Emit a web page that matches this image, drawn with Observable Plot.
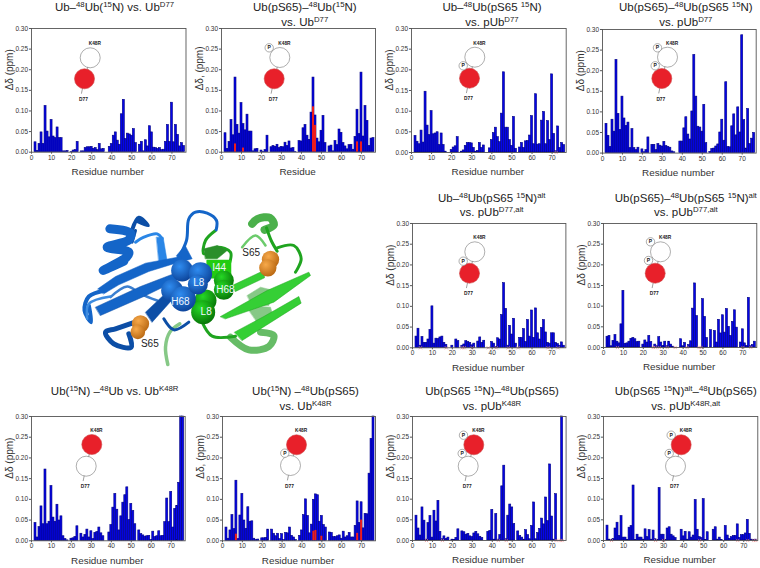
<!DOCTYPE html>
<html><head><meta charset="utf-8">
<script src="https://cdn.jsdelivr.net/npm/d3@7"></script>
<script src="https://cdn.jsdelivr.net/npm/@observablehq/plot@0.6"></script>
<style>
html,body{margin:0;padding:0;background:#fff}
#page{position:relative;width:760px;height:568px;overflow:hidden;font-family:"Liberation Sans",Arial,sans-serif}
#page svg{position:absolute;overflow:visible;background:transparent}
.t{position:absolute;transform:translateX(-50%);white-space:nowrap;font-size:11.5px;line-height:13px;color:#222;text-align:center}
.t sup{font-size:7.8px;line-height:0;vertical-align:baseline;position:relative;top:-4px}
</style></head><body><div id="page"></div>
<script>
// Residue numbers 2..76
const residues = d3.range(2, 77);
const ubA = [.024,.003,.02,.048,.02,.112,.05,.036,.078,.038,.034,.06,.034,.034,.002,.002,.003,0,.001,.004,.005,.025,0,.002,.002,.01,.012,.012,.013,.008,.01,.005,.02,.007,.008,0,0,.013,.02,.04,.048,.028,.018,.092,.127,.032,.045,.043,.04,.056,.022,0,.018,.025,.002,.029,.014,.063,.048,.011,.01,.008,.01,.005,.006,.025,.066,.025,.12,.024,.066,.042,.014,.022,.015];
const ubB = [.046,.008,.025,.078,.041,.181,.066,.045,.119,.068,.053,.091,.05,.05,.002,.007,.008,0,.004,.001,.005,.04,0,.012,.015,.013,.018,.01,.013,.012,.023,.015,.026,.009,.01,.001,0,.027,.026,.058,.066,.04,.03,.096,.181,.089,.033,.024,.052,.088,.022,0,.014,.016,.002,.027,.017,.055,.047,.022,.014,.007,.017,.018,.006,.037,.103,.044,.193,.038,.112,.076,.015,.033,.034];
const ubC = [.04,.026,.02,.053,.024,.147,.065,.042,.1,.044,.046,.049,.018,.046,.018,.002,0,0,.006,.012,.015,.037,0,.002,.005,.016,.023,.023,.022,.011,.002,.004,.023,.011,.017,0,0,.01,.03,.047,.06,.037,.025,.094,.194,.06,.06,.03,.016,.086,.009,0,.012,.023,.011,.027,.028,.041,.088,.02,.141,.019,.02,.077,.098,.02,.076,.03,.189,.045,.003,.063,.011,.023,.018];
const ubD = [.071,.042,.015,.081,.052,.226,.095,.056,.137,.084,.066,.074,.012,.058,.012,.007,.013,0,.009,.002,.007,.038,0,.02,.02,.007,.022,.018,.016,.027,.017,.015,.013,.004,.002,0,0,.028,.028,.06,.087,.045,.033,.101,.238,.137,.064,.062,.052,.117,.024,0,.003,.01,.011,.016,.021,.05,.081,.03,.172,.015,.014,.065,.094,.043,.111,.05,.286,.08,.011,.107,.022,.035,.049];
const ubE = [.027,.046,.005,.026,.012,.012,.02,.043,.1,.01,.022,.021,.025,.027,.012,.007,0,0,.005,0,.02,.016,0,.005,.008,.016,.014,.012,.006,.01,0,.015,.025,.012,.017,0,0,0,.014,.01,.002,.023,.02,.079,.156,.094,.005,.053,.032,.07,.01,0,.024,.024,.045,.014,.067,.027,.09,.024,.095,.035,.02,.048,.067,.037,.012,.01,.035,.035,.012,.009,.005,.013,.005];
const ubF = [.026,.028,.003,.016,.03,.014,.01,.056,.137,.009,.01,.014,.021,.023,.02,.013,.014,0,.007,.017,.012,.028,.013,0,.007,.003,.025,.012,.004,.014,.003,.014,.007,.002,0,0,0,.02,.003,.011,0,.006,.015,.094,.155,.076,0,0,.117,.074,.023,0,.042,0,.04,.012,.067,.034,.078,.036,.093,.05,.028,.062,.09,.048,0,.012,.044,.01,.004,.12,.003,.006,.014];
const ubG = [.043,.008,.033,.083,.04,.172,.04,.046,.132,.056,.046,.087,.049,.059,.011,.004,.001,0,.005,.006,.009,.035,0,.017,.008,.014,.027,.008,.023,.004,.019,.021,.032,.018,.011,0,0,.02,.038,.08,.113,.075,.025,.059,.092,.11,.129,.05,.089,.072,.04,0,.025,.016,.013,.01,.011,.012,.002,.022,.009,.011,.023,.011,.012,.045,.102,.045,.118,.032,.077,.084,.14,.3,.3];
const ubH = [.032,.005,.025,.062,.028,.145,.004,.061,.113,.049,.029,.081,.046,.047,.005,.002,.003,0,.006,.006,.007,.027,0,.027,.017,.011,.017,.004,.016,.002,.019,.018,.032,.012,.008,.002,0,.012,.025,.062,.1,.06,.018,.039,.099,.112,.11,.046,.06,.038,.032,0,.02,.019,.009,.009,.011,.013,.005,.022,.008,.011,.019,.008,.008,.036,.095,.043,.093,.03,.065,.064,.162,.246,.3];
const ubI = [.06,.029,.012,.08,.048,.002,.042,.059,.007,.072,.046,.096,.021,.003,.01,.004,.007,0,.002,.001,.006,.027,0,.022,.02,.014,.016,.01,.008,.017,.021,.015,.009,.006,0,0,.021,.023,.074,.002,.064,.002,.013,.131,.181,.003,.06,.087,.08,.04,0,.022,.011,.007,.002,.025,.013,.003,.035,.092,.003,.018,.028,.053,.039,.104,.047,.184,.058,.002,.112,0,0,.3,0];
const ubJ = [.036,.002,.001,.004,.029,.043,.011,.059,.007,.007,.001,.031,.035,.133,.001,.014,.007,.007,.002,.027,.008,.025,.002,.024,.003,.001,.127,.014,.014,.001,.029,.032,.014,.01,.006,0,0,.026,.01,.021,.002,.02,.007,.012,.098,.026,.008,.006,.1,.001,.02,0,0,.026,.032,.002,.007,.001,0,.035,.012,.004,.008,.011,.011,.039,.006,.013,.013,.017,.05,.016,.002,.001,.002];
// red overlays [residue, value]
const redB = [[7,.02],[11,.01],[46,.11],[47,.065],[68,.025],[70,.025]];
const redH = [[7,.016],[46,.023],[47,.025],[50,.011],[68,.018],[70,.05]];
// missing-residue marks
const missC = [72];
const missE = [4,17,25,26,30,38,42,48,53,68,73];
const missF = [7,25,26,28,32,36,42,48,49,70,74];
const missI = [7,15,43,47,72,74,75];
const missJ = [4,26,30,48,67,72,75,76];
const yTicks = [0,.05,.1,.15,.2,.25,.3];
const xTicks = [0,10,20,30,40,50,60,70];

const panels = [
 {v:ubA,l:30.5,r:185,t:28.3,b:152,xl:"Residue number",yl:"Δδ (ppm)",
  title:['Ub–<sup>48</sup>Ub(<sup>15</sup>N) vs. Ub<sup>D77</sup>'],cx:114.5,ty:1},
 {v:ubB,red:redB,l:221.3,r:375.3,t:28.3,b:152,xl:"Residue",yl:"Δδ, (ppm)",
  title:['Ub(pS65)–<sup>48</sup>Ub(<sup>15</sup>N)','vs. Ub<sup>D77</sup>'],cx:304.8,ty:1},
 {v:ubC,miss:missC,l:411.3,r:566,t:28.3,b:152.3,xl:"Residue number",yl:"Δδ (ppm)",
  title:['Ub–<sup>48</sup>Ub(pS65 <sup>15</sup>N)','vs. pUb<sup>D77</sup>'],cx:492,ty:1},
 {v:ubD,l:602.3,r:756,t:28.7,b:152.3,xl:"Residue number",yl:"Δδ (ppm)",
  title:['Ub(pS65)–<sup>48</sup>Ub(pS65 <sup>15</sup>N)','vs. pUb<sup>D77</sup>'],cx:685.8,ty:1},
 {v:ubE,miss:missE,l:412.3,r:565.7,t:222.7,b:347,xl:"Residue number",yl:"Δδ (ppm)",
  title:['Ub–<sup>48</sup>Ub(pS65 <sup>15</sup>N)<sup>alt</sup>','vs. pUb<sup>D77,alt</sup>'],cx:491.7,ty:191.5},
 {v:ubF,miss:missF,l:603,r:756.3,t:223.3,b:347.3,xl:"Residue number",yl:"Δδ (ppm)",
  title:['Ub(pS65)–<sup>48</sup>Ub(pS65 <sup>15</sup>N)<sup>alt</sup>','vs. pUb<sup>D77,alt</sup>'],cx:685.8,ty:191.5},
 {v:ubG,l:31.3,r:185,t:415.7,b:540,xl:"Residue number",yl:"Δδ (ppm)",
  title:['Ub(<sup>15</sup>N) –<sup>48</sup>Ub vs. Ub<sup>K48R</sup>'],cx:114.7,ty:385},
 {v:ubH,red:redH,l:222.3,r:375.3,t:415.7,b:540,xl:"Residue number",yl:"Δδ, (ppm)",
  title:['Ub(<sup>15</sup>N) –<sup>48</sup>Ub(pS65)','vs. Ub<sup>K48R</sup>'],cx:305.5,ty:385},
 {v:ubI,miss:missI,l:411.7,r:565.3,t:415.7,b:539.7,xl:"Residue number",yl:"Δδ, (ppm)",
  title:['Ub(pS65 <sup>15</sup>N)–<sup>48</sup>Ub(pS65)','vs. pUb<sup>K48R</sup>'],cx:492,ty:385},
 {v:ubJ,miss:missJ,l:602.7,r:757,t:415.7,b:539.7,xl:"Residue number",yl:"Δδ, (ppm)",
  title:['Ub(pS65 <sup>15</sup>N)<sup>alt</sup>–<sup>48</sup>Ub(pS65)','vs. pUb<sup>K48R,alt</sup>'],cx:685.8,ty:385}
];
// cartoon layouts on the page: top circle, bottom circle, phospho tags
const cartoons = [
 {top:[89.7,57.3],bot:[84,78.3],red:"bot",p:[]},
 {top:[279.3,57],bot:[273.7,78.3],red:"bot",p:[[268.7,47.3,"top"]]},
 {top:[474.3,56.7],bot:[469,77.7],red:"bot",p:[[462.7,65.3,"top"]]},
 {top:[667,56.7],bot:[661.3,78],red:"bot",p:[[654.7,65.3,"top"],[657,47.3,"top"]]},
 {top:[474.3,251.3],bot:[469,272.7],red:"bot",p:[[462.7,260.7,"top"]]},
 {top:[660,251.3],bot:[654.7,272.7],red:"bot",p:[[648,260,"top"],[650,241.3,"top"]]},
 {top:[91.3,444],bot:[85.7,465.7],red:"top",p:[]},
 {top:[296,444.3],bot:[290,465],red:"top",p:[[284.3,452.7,"bot"]]},
 {top:[473.3,444.3],bot:[467.7,465.7],red:"top",p:[[461.7,453,"bot"],[463,434.7,"top"]]},
 {top:[680.7,444.3],bot:[675,465.7],red:"top",p:[[668.7,453,"bot"],[670.7,434.7,"top"]]}
];

const page = document.getElementById("page");
const FONT = '"Liberation Sans",Arial,sans-serif';
for (const p of panels) {
  const mL=31, mR=4, mT=4, mB=30;
  const bars = residues.map((r,i)=>({r,v:p.v[i]})).filter(d=>d.v>0);
  const marks = [
    Plot.rectY(bars,{x1:d=>d.r-.5,x2:d=>d.r+.5,y1:0,y2:"v",fill:"#0505e8",stroke:"#000080",strokeWidth:.6,inset:0}),
  ];
  if (p.red) marks.push(Plot.rectY(p.red,{x1:d=>d[0]-.5,x2:d=>d[0]+.5,y1:0,y2:d=>d[1],fill:"#ee1c1c",inset:0}));
  if (p.miss) marks.push(Plot.dot(p.miss,{x:d=>d,y:0,r:1.6,symbol:"times",stroke:"#e88a8a",strokeWidth:.7}));
  marks.push(
    Plot.frame({stroke:"#555",strokeWidth:.9}),
    Plot.axisX({ticks:xTicks,tickSize:2,tickPadding:1,fontSize:6.5,label:null,stroke:"#555",fill:"#333"}),
    Plot.axisY({ticks:yTicks,tickSize:2,tickPadding:1.5,tickFormat:".2f",fontSize:6.5,label:null,stroke:"#555",fill:"#333"}),
    Plot.text([p.xl],{frameAnchor:"bottom",dy:23,dx:-1,fontSize:9.9,fill:"#333",lineAnchor:"bottom"}),
    Plot.text([p.yl],{frameAnchor:"left",dx:-22,rotate:-90,fontSize:10,fill:"#333"})
  );
  const svg = Plot.plot({
    width:(p.r-p.l)+mL+mR, height:(p.b-p.t)+mT+mB,
    marginLeft:mL,marginRight:mR,marginTop:mT,marginBottom:mB,
    x:{domain:[0,77],axis:null}, y:{domain:[0,.3],axis:null},
    style:{fontFamily:FONT,background:"transparent",overflow:"visible"},
    marks
  });
  svg.style.left=(p.l-mL)+"px"; svg.style.top=(p.t-mT)+"px";
  page.appendChild(svg);
  p.title.forEach((s,i)=>{
    const d=document.createElement("div");d.className="t";d.innerHTML=s;
    d.style.left=p.cx+"px";d.style.top=(p.ty+i*14.6)+"px";page.appendChild(d);
  });
}

// Cartoons overlay
const links=[],big=[],small=[],kLab=[],dLab=[],pLab=[];
for(const c of cartoons){
  links.push({a:c.top,b:c.bot});
  links.push({a:c.bot,b:[c.bot[0]-3,c.bot[1]+14.5]});
  big.push({x:c.top[0],y:c.top[1],f:c.red==="top"?"#e8202a":"#fff",s:c.red==="top"?"#c44":"#777"});
  big.push({x:c.bot[0],y:c.bot[1],f:c.red==="bot"?"#e8202a":"#fff",s:c.red==="bot"?"#c44":"#777"});
  kLab.push({x:c.top[0]+4.6,y:c.top[1]-14,t:"K48R"});
  dLab.push({x:c.bot[0]-1,y:c.bot[1]+20.7,t:"D77"});
  for(const q of c.p){
    links.push({a:[q[0],q[1]],b:c[q[2]]});
    small.push({x:q[0],y:q[1]});pLab.push({x:q[0],y:q[1],t:"P"});
  }
}
const segs=links.flatMap((l,i)=>[{x:l.a[0],y:l.a[1],i},{x:l.b[0],y:l.b[1],i}]);
const overlay=Plot.plot({
  width:760,height:568,margin:0,
  x:{domain:[0,760],range:[0,760],axis:null},
  y:{domain:[0,568],range:[0,568],axis:null},
  style:{fontFamily:FONT,background:"transparent",overflow:"visible"},
  marks:[
    Plot.line(segs,{x:"x",y:"y",z:"i",stroke:"#777",strokeWidth:.7}),
    Plot.dot(big,{x:"x",y:"y",r:10,fill:"f",stroke:"s",strokeWidth:.6}),
    Plot.dot(small,{x:"x",y:"y",r:4.2,fill:"#fff",stroke:"#777",strokeWidth:.6}),
    Plot.text(pLab,{x:"x",y:"y",text:"t",fontSize:5,fontWeight:"bold",fill:"#222"}),
    Plot.text(kLab,{x:"x",y:"y",text:"t",fontSize:4.8,fontWeight:"bold",fill:"#222"}),
    Plot.text(dLab,{x:"x",y:"y",text:"t",fontSize:4.8,fontWeight:"bold",fill:"#222"})
  ]
});
overlay.style.left="0";overlay.style.top="0";overlay.style.pointerEvents="none";
page.appendChild(overlay);

// Protein structure illustration (coordinates in a 810x540 drawing space)
const P={x:d=>d[0],y:d=>d[1]};
const poly=(pts,c,s)=>Plot.line(pts,{...P,fill:c,stroke:s||c,strokeWidth:.5,curve:"linear-closed"});
const rib=(pts,c,w)=>Plot.line(pts,{...P,stroke:c,strokeWidth:w,curve:"catmull-rom",strokeLinecap:"round"});
const grad=(id,a,b)=>`<radialGradient id="${id}" cx="38%" cy="32%" r="75%"><stop offset="0%" stop-color="${a}"/><stop offset="100%" stop-color="${b}"/></radialGradient>`;
const defs=()=>{const g=document.createElementNS("http://www.w3.org/2000/svg","defs");
  g.innerHTML=grad("gb","#2f8cf0","#0a3f94")+grad("gg","#25d825","#056f05")+grad("go","#f7a94a","#b5640f");return g;};
const BL="#1465c8",BD="#0c4ea6",BM="#2a86e6",GR="#35cf35",GD="#1fa41f",GP="#86c886";
const sph=(pts,f,r)=>Plot.dot(pts,{...P,r:r/3,fill:f});
const protein=Plot.plot({
  width:270,height:180,margin:0,
  x:{domain:[0,810],range:[0,270],axis:null},
  y:{domain:[0,540],range:[0,180],axis:null},
  style:{fontFamily:FONT,background:"transparent",overflow:"visible"},
  marks:[
    defs,
    // green back layer
    rib([[322,522],[315,470],[328,425],[358,400]],GP,3.5),
    poly([[560,315],[600,290],[640,300],[625,345],[575,345]],GP),
    poly([[555,345],[630,350],[640,385],[590,395]],GP),
    rib([[510,440],[565,478],[625,468],[640,435],[600,425]],"#66bc66",7),
    rib([[575,100],[592,85],[628,82],[640,103],[612,118]],"#4bb04b",8),
    rib([[618,112],[632,150],[650,182]],GD,3),
    rib([[650,172],[700,165],[722,205],[705,245]],GD,3),
    rib([[545,170],[585,135],[615,165]],"#6ccb6c",2.5),
    rib([[425,395],[455,437],[525,437]],GD,3),
    rib([[465,120],[435,150],[430,190],[470,170],[510,185],[505,225]],GD,3),
    poly([[430,175],[470,165],[500,180],[470,205],[435,205]],"#2a8f2a"),
    rib([[467,118],[468,90],[440,68],[405,65],[385,85],[378,150],[352,205]],BL,3),
    // blue back layer
    poly([[288,140],[308,140],[320,212],[296,222]],BM),
    rib([[225,155],[250,140],[290,130],[305,145]],BM,3),
    rib([[150,320],[200,288],[240,310],[290,330]],"#3b7fd0",2.5),
    poly([[348,195],[374,165],[395,205],[360,215]],BL),
    // blue helix
    rib([[215,118],[235,82],[262,105],[232,92]],BD,4),
    rib([[215,155],[225,120]],BD,3),
    Plot.line([[148,115],[210,128],[205,148],[140,170],[205,185],[198,200],[128,240],[190,212]],{...P,stroke:BL,strokeWidth:9,strokeLinejoin:"round",strokeLinecap:"round",curve:"catmull-rom"}),
    // blue strands and loops
    rib([[135,300],[85,318],[72,360],[92,395],[85,345]],BL,4),
    rib([[150,318],[85,340],[80,385]],"#3c8be0",2.5),
    poly([[112,295],[165,258],[255,218],[362,198],[365,212],[265,243],[175,283],[130,310]],BL),
    poly([[105,350],[240,288],[352,245],[365,262],[250,318],[120,375]],BL,BD),
    poly([[255,365],[340,285],[360,300],[275,395]],BD),
    rib([[215,398],[165,415],[135,425],[160,460],[212,470],[205,430]],BD,5),
    rib([[310,385],[340,418],[385,395]],BD,3),
    // spheres
    sph([[365,240]],"url(#gb)",33),
    Plot.line([[440,210],[510,210],[510,262],[440,262]],{...P,fill:"#22cc11",stroke:"#22cc11",curve:"linear-closed"}),
    sph([[335,300]],"url(#gb)",33),
    sph([[490,270]],"url(#gg)",30),
    sph([[490,298]],"url(#gg)",30),
    sph([[435,330]],"url(#gg)",33),
    sph([[428,365]],"url(#gg)",36),
    sph([[368,325]],"url(#gb)",38),
    sph([[420,250]],"url(#gb)",35),
    sph([[412,282]],"url(#gb)",30),
    // green strands
    poly([[515,285],[610,240],[612,262],[525,303]],GR,GD),
    poly([[480,378],[620,300],[745,245],[750,255],[640,335],[495,385]],GR,GD),
    poly([[522,425],[610,378],[715,318],[722,338],[545,450]],GR,GD),
    // orange serines
    sph([[630,207]],"url(#go)",26),
    sph([[622,232]],"url(#go)",26),
    sph([[240,400]],"url(#go)",26),
    sph([[232,424]],"url(#go)",22),
    Plot.text([[415,278,"L8"],[476,231,"I44"],[495,298,"H68"],[360,333,"H68"],[437,363,"L8"]],{...P,text:d=>d[2],fill:"#f2f7ff",fontSize:10}),
    Plot.text([[572,187,"S65"],[268,460,"S65"]],{...P,text:d=>d[2],fill:"#222",fontSize:10})
  ]
});
protein.style.left="60px";protein.style.top="190px";
page.appendChild(protein);
</script></body></html>
